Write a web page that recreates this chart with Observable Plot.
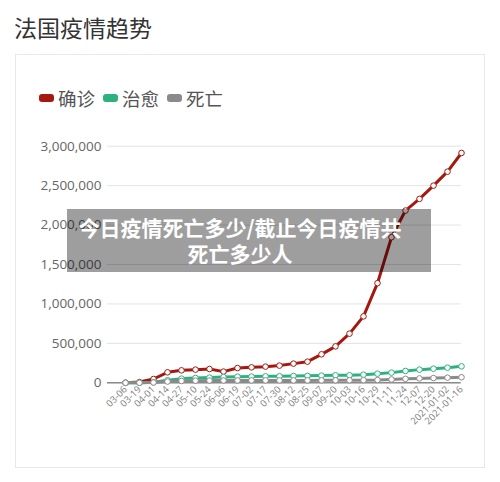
<!DOCTYPE html>
<html>
<head>
<meta charset="utf-8">
<script src="https://cdn.jsdelivr.net/npm/d3@7"></script>
<script src="https://cdn.jsdelivr.net/npm/@observablehq/plot@0.6"></script>
<style>
  html, body { margin: 0; padding: 0; background: #fff; }
  #wrap { position: relative; width: 500px; height: 482px; overflow: hidden; font-family: "Noto Sans CJK SC", "Noto Sans", sans-serif; }
  #title { position: absolute; left: 14px; top: 12px; font-size: 23px; line-height: 30px; color: #333; }
  #card { position: absolute; left: 15px; top: 54px; width: 470px; height: 414px; border: 1px solid #e8e8e8; box-sizing: border-box; }
  #legend { position: absolute; left: 39px; top: 86px; display: flex; align-items: center; font-size: 18.5px; line-height: 24px; color: #555; }
  .item { display: flex; align-items: center; margin-right: 8px; }
  .sw { width: 15px; height: 8px; border-radius: 3px; margin-right: 4px; }
  #chart { position: absolute; left: 0; top: 0; }
  #overlay { position: absolute; left: 67px; top: 209px; width: 364px; height: 63px; background: rgba(0,0,0,0.38); color: #fff; font-weight: bold; font-size: 21px; letter-spacing: 0px; line-height: 26px; text-align: center; padding-top: 5px; padding-right: 18px; box-sizing: border-box; }
</style>
</head>
<body>
<div id="wrap">
  <div id="title">法国疫情趋势</div>
  <div id="card"></div>
  <div id="legend"></div>
  <div id="chart"></div>
  <div id="overlay">今日疫情死亡多少/截止今日疫情共<br>死亡多少人</div>
</div>
<script>
const labels = ["03-06","03-19","04-01","04-14","04-27","05-10","05-24","06-06","06-19","07-02","07-17","07-30","08-12","08-25","09-07","09-20","10-03","10-16","10-29","11-11","11-24","12-07","12-20","2021-01-02","2021-01-16"];
const confirmed = [600, 9000, 48000, 133000, 158000, 167000, 175000, 142000, 187000, 196000, 205000, 218000, 243000, 268000, 361000, 462000, 623000, 842000, 1263000, 1846000, 2184000, 2332000, 2500000, 2677000, 2914000];
const recovered = [12, 600, 6000, 32000, 53000, 61000, 66000, 73000, 78000, 79000, 82000, 83000, 86000, 88000, 91000, 95000, 96000, 103000, 116000, 129000, 150000, 167000, 179000, 192000, 209000];
const deaths = [9, 370, 3500, 15700, 23000, 26400, 28400, 29100, 29600, 29900, 30200, 30300, 30400, 30600, 30800, 31400, 32200, 33500, 35800, 42500, 50200, 55500, 60200, 64900, 70300];
const seriesNames = ["确诊", "治愈", "死亡"];
const seriesColors = ["#a5180f", "#2cb27e", "#8a8a8a"];
const yTicks = [0, 500000, 1000000, 1500000, 2000000, 2500000, 3000000];

const seriesValues = [confirmed, recovered, deaths];
const tables = seriesValues.map((vals, k) => labels.map((d, i) => ({date: d, value: vals[i], series: seriesNames[k]})));

// legend
const legend = document.getElementById("legend");
seriesNames.forEach((n, k) => {
  const it = document.createElement("div");
  it.className = "item";
  it.innerHTML = `<span class="sw" style="background:${seriesColors[k]}"></span><span>${n}</span>`;
  legend.appendChild(it);
});

const marks = [
  Plot.gridY({ticks: yTicks, stroke: "#e3e3e3", strokeOpacity: 1}),
  Plot.axisY({ticks: yTicks, tickSize: 0, tickPadding: 6, fontSize: 13.5, color: "#666", label: null, tickFormat: d3.format(",")}),
  Plot.axisX({tickRotate: -45, tickSize: 0, tickPadding: 5, fontSize: 9.5, color: "#808080", label: null}),
  Plot.ruleY([0], {stroke: "#8a8a8a", strokeWidth: 1.5})
];
tables.forEach((t, k) => {
  marks.push(Plot.line(t, {x: "date", y: "value", stroke: seriesColors[k], strokeWidth: 3}));
  marks.push(Plot.dot(t, {x: "date", y: "value", stroke: seriesColors[k], fill: "white", r: 2.8, strokeWidth: 1}));
});

const chart = Plot.plot({
  width: 500,
  height: 482,
  marginLeft: 107,
  marginRight: 39.3,
  marginTop: 145.7,
  marginBottom: 99.7,
  style: {background: "transparent", fontFamily: "'Open Sans', sans-serif"},
  x: {type: "point", domain: labels, padding: 0.454, align: 1, label: null},
  y: {domain: [0, 3000000], label: null},
  marks
});
document.getElementById("chart").appendChild(chart);
</script>
</body>
</html>
